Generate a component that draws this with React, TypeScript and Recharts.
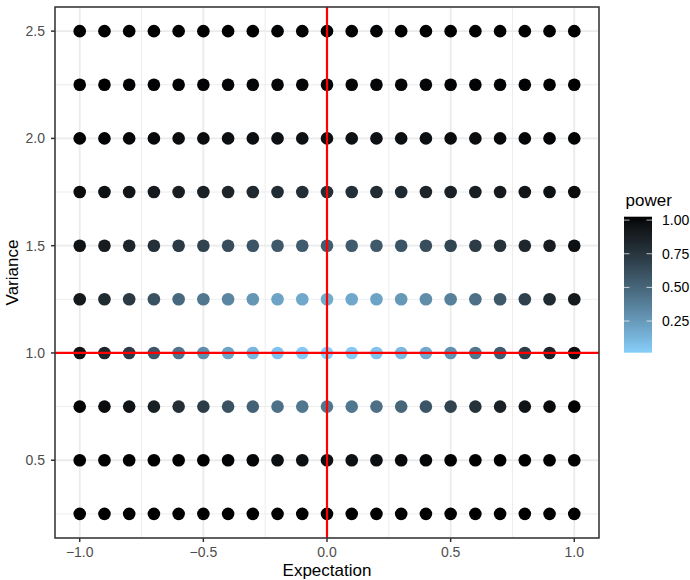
import { CartesianGrid, ReferenceArea, ReferenceLine, Scatter, ScatterChart, XAxis, YAxis } from "recharts"

// grid of tested parameters
const expectation = [-1.0, -0.9, -0.8, -0.7, -0.6, -0.5, -0.4, -0.3, -0.2, -0.1, 0.0, 0.1, 0.2, 0.3, 0.4, 0.5, 0.6, 0.7, 0.8, 0.9, 1.0]
const variance = [0.25, 0.5, 0.75, 1.0, 1.25, 1.5, 1.75, 2.0, 2.25, 2.5]

// power, one row per variance value (left to right = expectation)
const powerVar025 = [1.0, 1.0, 1.0, 1.0, 1.0, 1.0, 1.0, 1.0, 1.0, 1.0, 1.0, 1.0, 1.0, 1.0, 1.0, 1.0, 1.0, 1.0, 1.0, 1.0, 1.0]
const powerVar050 = [1.0, 1.0, 1.0, 1.0, 1.0, 1.0, 0.99, 0.98, 0.95, 0.94, 0.94, 0.94, 0.95, 0.97, 0.98, 1.0, 1.0, 1.0, 1.0, 1.0, 1.0]
const powerVar075 = [0.99, 0.96, 0.93, 0.86, 0.78, 0.7, 0.6, 0.52, 0.45, 0.42, 0.42, 0.42, 0.45, 0.5, 0.58, 0.67, 0.76, 0.85, 0.93, 0.97, 1.0]
const powerVar100 = [0.93, 0.83, 0.71, 0.57, 0.44, 0.32, 0.22, 0.14, 0.09, 0.06, 0.04, 0.06, 0.09, 0.13, 0.2, 0.3, 0.42, 0.55, 0.7, 0.84, 0.95]
const powerVar125 = [0.9, 0.8, 0.72, 0.6, 0.49, 0.42, 0.35, 0.28, 0.22, 0.2, 0.19, 0.2, 0.22, 0.27, 0.32, 0.38, 0.45, 0.56, 0.68, 0.8, 0.9]
const powerVar150 = [0.93, 0.88, 0.83, 0.77, 0.72, 0.67, 0.62, 0.58, 0.56, 0.55, 0.54, 0.55, 0.56, 0.58, 0.62, 0.66, 0.71, 0.76, 0.82, 0.88, 0.94]
const powerVar175 = [0.96, 0.94, 0.92, 0.89, 0.87, 0.85, 0.83, 0.81, 0.79, 0.78, 0.78, 0.78, 0.79, 0.81, 0.83, 0.85, 0.87, 0.89, 0.92, 0.94, 0.96]
const powerVar200 = [0.99, 0.99, 0.98, 0.97, 0.96, 0.96, 0.95, 0.95, 0.94, 0.94, 0.94, 0.94, 0.94, 0.95, 0.95, 0.96, 0.96, 0.97, 0.98, 0.99, 0.99]
const powerVar225 = [1.0, 1.0, 0.99, 0.99, 0.99, 0.99, 0.98, 0.98, 0.98, 0.98, 0.98, 0.98, 0.98, 0.98, 0.98, 0.99, 0.99, 0.99, 0.99, 1.0, 1.0]
const powerVar250 = [1.0, 1.0, 1.0, 1.0, 1.0, 1.0, 1.0, 1.0, 0.99, 0.99, 0.99, 0.99, 0.99, 1.0, 1.0, 1.0, 1.0, 1.0, 1.0, 1.0, 1.0]

const powerRows = [powerVar025, powerVar050, powerVar075, powerVar100, powerVar125, powerVar150, powerVar175, powerVar200, powerVar225, powerVar250]

const xTicks = [-1, -0.5, 0, 0.5, 1]
const xMinor = [-0.75, -0.25, 0.25, 0.75]
const yTicks = [0.5, 1.0, 1.5, 2.0, 2.5]
const yMinor = [0.25, 0.75, 1.25, 1.75, 2.25]
const legendTicks = [0.25, 0.5, 0.75, 1.0]

const points = variance.flatMap((v, i) =>
  expectation.map((e, j) => ({ expectation: e, variance: v, power: powerRows[i][j] })),
)

const pMin = Math.min(...points.map((p) => p.power))
const pMax = Math.max(...points.map((p) => p.power))

// colour ramp lightskyblue -> black, interpolated in CIELAB like ggplot
const toLin = (c: number) => {
  c /= 255
  return c <= 0.04045 ? c / 12.92 : Math.pow((c + 0.055) / 1.055, 2.4)
}
const fromLin = (c: number) => {
  const v = c <= 0.0031308 ? 12.92 * c : 1.055 * Math.pow(c, 1 / 2.4) - 0.055
  return Math.max(0, Math.min(255, Math.round(v * 255)))
}
const f = (t: number) => (t > 0.008856 ? Math.cbrt(t) : 7.787 * t + 16 / 116)
const fi = (t: number) => (t * t * t > 0.008856 ? t * t * t : (t - 16 / 116) / 7.787)

function rgbToLab(rgb: number[]) {
  const [r, g, b] = rgb.map(toLin)
  const x = (0.4124 * r + 0.3576 * g + 0.1805 * b) / 0.95047
  const y = 0.2126 * r + 0.7152 * g + 0.0722 * b
  const z = (0.0193 * r + 0.1192 * g + 0.9505 * b) / 1.08883
  return [116 * f(y) - 16, 500 * (f(x) - f(y)), 200 * (f(y) - f(z))]
}

function labToHex(lab: number[]) {
  const fy = (lab[0] + 16) / 116
  const fx = fy + lab[1] / 500
  const fz = fy - lab[2] / 200
  const x = fi(fx) * 0.95047
  const y = fi(fy)
  const z = fi(fz) * 1.08883
  const r = 3.2406 * x - 1.5372 * y - 0.4986 * z
  const g = -0.9689 * x + 1.8758 * y + 0.0415 * z
  const b = 0.0557 * x - 0.204 * y + 1.057 * z
  return "#" + [r, g, b].map((c) => fromLin(c).toString(16).padStart(2, "0")).join("")
}

const lowLab = rgbToLab([135, 206, 250])

function colorFor(p: number) {
  const t = Math.max(0, Math.min(1, (p - pMin) / (pMax - pMin)))
  return labToHex(lowLab.map((c) => c * (1 - t)))
}

const fmtX = (v: number) => (v < 0 ? "\u2212" + Math.abs(v).toFixed(1) : v.toFixed(1))

function ColorBar() {
  const x = 624
  const w = 28
  const top = 216.7
  const bottom = 352.7
  const nbin = 20
  const inset = (bottom - top) / nbin / 2
  const yFor = (p: number) => bottom - inset - ((p - pMin) / (pMax - pMin)) * (bottom - top - 2 * inset)
  const stops = Array.from({ length: 21 }, (_, k) => k / 20)
  return (
    <svg width={690} height={580} style={{ position: "absolute", left: 0, top: 0, pointerEvents: "none" }}>
      <defs>
        <linearGradient id="powerBar" x1="0" y1="0" x2="0" y2="1">
          {stops.map((s) => (
            <stop key={s} offset={s} stopColor={colorFor(pMax - s * (pMax - pMin))} />
          ))}
        </linearGradient>
      </defs>
      <text x={625.5} y={206} fontSize={17} fill="#000">
        power
      </text>
      <rect x={x} y={top} width={w} height={bottom - top} fill="url(#powerBar)" />
      {legendTicks.map((t) => (
        <g key={t}>
          <line x1={x} x2={x + 5.5} y1={yFor(t)} y2={yFor(t)} stroke="#fff" strokeOpacity={0.7} strokeWidth={1} />
          <line x1={x + w - 5.5} x2={x + w} y1={yFor(t)} y2={yFor(t)} stroke="#fff" strokeOpacity={0.7} strokeWidth={1} />
          <text x={662} y={yFor(t)} fontSize={14} fill="#000" dominantBaseline="central">
            {t.toFixed(2)}
          </text>
        </g>
      ))}
    </svg>
  )
}

export default function App() {
  return (
    <div
      style={{
        position: "absolute",
        left: 0,
        top: 0,
        width: 690,
        height: 580,
        overflow: "hidden",
        background: "#fff",
        fontFamily: '"Liberation Sans", Arial, sans-serif',
      }}
    >
      <ScatterChart width={690} height={580} margin={{ top: 7, right: 91, left: 0, bottom: 0 }}>
        <CartesianGrid stroke="#ebebeb" strokeWidth={0.9} horizontalValues={yMinor} verticalValues={xMinor} />
        <CartesianGrid stroke="#ebebeb" strokeWidth={1.8} />
        <XAxis
          type="number"
          dataKey="expectation"
          domain={[-1.1, 1.1]}
          ticks={xTicks}
          allowDataOverflow
          height={42}
          axisLine={false}
          tickSize={4}
          tickMargin={5}
          tickLine={{ stroke: "#333", strokeWidth: 1.5 }}
          tick={{ fill: "#4d4d4d", fontSize: 14 }}
          tickFormatter={fmtX}
          label={(props: any) => {
            const vb = props.viewBox
            return (
              <text x={vb.x + vb.width / 2} y={vb.y + 37.7} textAnchor="middle" fontSize={17} fill="#000">
                Expectation
              </text>
            )
          }}
        />
        <YAxis
          type="number"
          dataKey="variance"
          domain={[0.1375, 2.6125]}
          ticks={yTicks}
          allowDataOverflow
          width={55}
          axisLine={false}
          tickSize={4}
          tickMargin={6}
          tickLine={{ stroke: "#333", strokeWidth: 1.5 }}
          tick={{ fill: "#4d4d4d", fontSize: 14 }}
          tickFormatter={(v: number) => v.toFixed(1)}
          label={(props: any) => {
            const vb = props.viewBox
            const cy = vb.y + vb.height / 2
            return (
              <text x={18.3} y={cy} textAnchor="middle" fontSize={17} fill="#000" transform={`rotate(-90, 18.3, ${cy})`}>
                Variance
              </text>
            )
          }}
        />
        <Scatter
          data={points}
          isAnimationActive={false}
          shape={(props: any) => <circle cx={props.cx} cy={props.cy} r={6.3} fill={colorFor(props.payload.power)} />}
        />
        <ReferenceLine x={0} stroke="#ff0000" strokeWidth={2.2} zIndex={700} />
        <ReferenceLine y={1} stroke="#ff0000" strokeWidth={2.2} zIndex={700} />
        <ReferenceArea
          x1={-1.1}
          x2={1.1}
          y1={0.1375}
          y2={2.6125}
          fill="none"
          fillOpacity={0}
          stroke="#333"
          strokeWidth={1.5}
          zIndex={800}
        />
      </ScatterChart>
      <ColorBar />
    </div>
  )
}
